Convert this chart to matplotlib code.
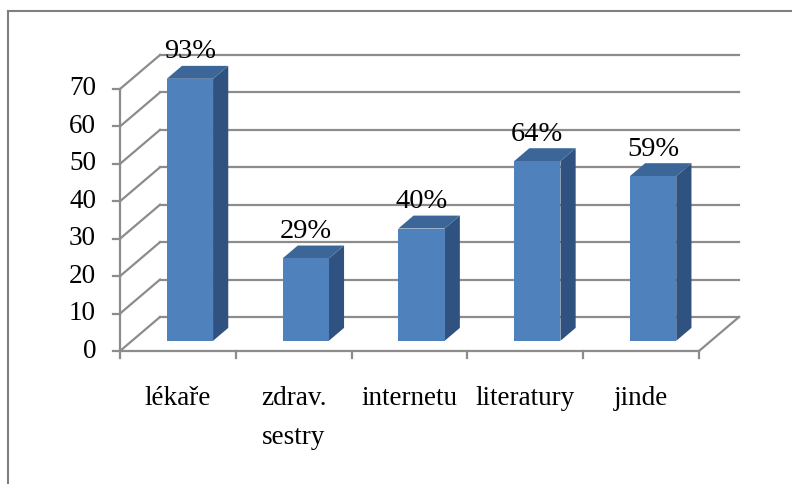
import matplotlib
matplotlib.use("Agg")
import matplotlib.pyplot as plt
from matplotlib.patches import Polygon
from matplotlib.lines import Line2D

categories = ["lékaře", "zdrav.\nsestry", "internetu", "literatury", "jinde"]
counts = [70, 22, 30, 48, 44]
respondents = 75
y_ticks = [0, 10, 20, 30, 40, 50, 60, 70]

FRONT = "#4F81BD"
TOP = "#3C6697"
SIDE = "#2F5281"
GRID = "#8C8C8C"
FONT = "Liberation Serif"

W, H = 792, 484
fig = plt.figure(figsize=(W / 100, H / 100), dpi=100)
ax = fig.add_axes([0, 0, 1, 1])

# map data units onto the canvas: one category per 115.8 px, 3.743 px per unit
px_cat, px_val = 115.8, 3.743
x0_px, y0_px = 120, 351
ax.set_xlim(-x0_px / px_cat, (W - x0_px) / px_cat)
ax.set_ylim(-(H - y0_px) / px_val, y0_px / px_val)
ax.axis("off")

n = len(categories)
DX = 40 / px_cat      # depth offset along x
DY = 34 / px_val      # depth offset along y
ymax = y_ticks[-1]

# back wall gridlines and side wall diagonals
for v in y_ticks:
    ax.add_line(Line2D([DX, n + DX], [v + DY, v + DY], color=GRID, lw=1.6, zorder=1))
    ax.add_line(Line2D([0, DX], [v, v + DY], color=GRID, lw=1.6, zorder=1))
# floor
ax.add_line(Line2D([0, n], [0, 0], color=GRID, lw=1.6, zorder=5))
ax.add_line(Line2D([n, n + DX], [0, DY], color=GRID, lw=1.6, zorder=1))
# value axis
ax.add_line(Line2D([0, 0], [0, ymax], color=GRID, lw=1.6, zorder=5))
tick_len = 7 / px_cat
for v in y_ticks:
    ax.add_line(Line2D([-tick_len, 0], [v, v], color=GRID, lw=1.6, zorder=5))
    ax.text(-24 / px_cat, v, str(v), ha="right", va="center",
            fontsize=19.5, family=FONT, color="black")
# category ticks
for i in range(n + 1):
    ax.add_line(Line2D([i, i], [0, -7 / px_val], color=GRID, lw=1.6, zorder=5))

# 3D bars
bw = 0.40
f0, f1 = 0.30, 0.68
for i, (cat, v) in enumerate(zip(categories, counts)):
    c = i + 0.5
    xl, xr = c - bw / 2, c + bw / 2
    fx0, fy0 = f0 * DX, f0 * DY
    fx1, fy1 = f1 * DX, f1 * DY
    front = [(xl + fx0, fy0), (xr + fx0, fy0), (xr + fx0, v + fy0), (xl + fx0, v + fy0)]
    side = [(xr + fx0, fy0), (xr + fx1, fy1), (xr + fx1, v + fy1), (xr + fx0, v + fy0)]
    top = [(xl + fx0, v + fy0), (xr + fx0, v + fy0), (xr + fx1, v + fy1), (xl + fx1, v + fy1)]
    ax.add_patch(Polygon(side, closed=True, facecolor=SIDE, edgecolor="none", zorder=3))
    ax.add_patch(Polygon(top, closed=True, facecolor=TOP, edgecolor="none", zorder=3))
    ax.add_patch(Polygon(front, closed=True, facecolor=FRONT, edgecolor="none", zorder=4))
    pct = round(v / respondents * 100)
    ax.annotate(f"{pct}%", xy=(c + fx0, v + fy1), xytext=(0, 1),
                textcoords="offset points", ha="center", va="bottom",
                fontsize=20.5, family=FONT, color="black", zorder=6)
    ax.text(c, -35 / px_val, cat, ha="center", va="top", fontsize=19.5,
            family=FONT, color="black", linespacing=1.75)

# chart frame (left and top edges)
fig.add_artist(Line2D([8 / W, 8 / W], [0, 1 - 11 / H], color="#7F7F7F", lw=1.5,
                      transform=fig.transFigure))
fig.add_artist(Line2D([8 / W, 1], [1 - 11 / H, 1 - 11 / H], color="#7F7F7F", lw=1.5,
                      transform=fig.transFigure))

fig.savefig("out.png", dpi=100)
